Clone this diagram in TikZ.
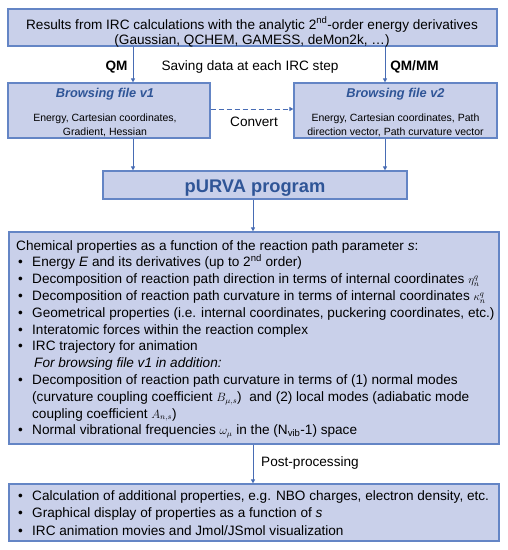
\documentclass[tikz,border=0pt]{standalone}
\usepackage{fontspec}
\setmainfont{Liberation Sans}
\usetikzlibrary{arrows.meta,fit}
\definecolor{boxfill}{RGB}{201,208,234}
\definecolor{boxdraw}{RGB}{100,133,197}
\definecolor{arrcol}{RGB}{72,108,180}
\definecolor{titlecol}{RGB}{47,85,151}
\newcommand{\mymath}[1]{{\fontsize{12}{14}\selectfont$#1$}}
\newcommand{\mysmallmath}[1]{{\fontsize{11}{13}\selectfont$#1$}}
\tikzset{
  box/.style={draw=boxdraw, fill=boxfill, line width=1.2pt, inner sep=0pt, rectangle},
  conn/.style={draw=arrcol, line width=0.9pt, -{Triangle[length=4pt,width=4pt]}},
  txt/.style={anchor=base west, inner sep=0pt, font=\fontsize{13.6}{16}\selectfont},
  ctxt/.style={anchor=base, inner sep=0pt, font=\fontsize{13.6}{16}\selectfont},
  small/.style={anchor=base, inner sep=0pt, font=\fontsize{10.5}{12}\selectfont},
  title/.style={anchor=base, inner sep=0pt, text=titlecol, font=\fontsize{12.8}{15}\selectfont\bfseries\itshape},
  blt/.style={anchor=base west, inner sep=0pt, font=\fontsize{13.6}{16}\selectfont},
}
\begin{document}
\begin{tikzpicture}[x=1pt,y=-1pt]
\useasboundingbox (0,0) rectangle (508,550);
% boxes
\node[box, fit={(8,9) (497,46)}] (top) {};
\node[box, fit={(8,83) (210,138)}] (v1) {};
\node[box, fit={(294,83) (497,138)}] (v2) {};
\node[box, fit={(103,171) (407,199)}] (purva) {};
\node[box, fit={(9,232) (499,444)}] (chem) {};
\node[box, fit={(9,484) (499,541)}] (post) {};
% top box text
\node[ctxt] (tl1) at (252,29) {Results from IRC calculations with the analytic 2\textsuperscript{nd}-order energy derivatives};
\node[ctxt] (tl2) at (252,44) {(Gaussian, QCHEM, GAMESS, deMon2k, \dots)};
% labels between
\node[ctxt, font=\fontsize{13.6}{16}\selectfont\bfseries] (qm) at (116.5,70) {QM};
\node[ctxt] (save) at (250,70) {Saving data at each IRC step};
\node[ctxt, font=\fontsize{13.6}{16}\selectfont\bfseries] (qmmm) at (414.5,70) {QM/MM};
% browsing files
\node[title] (v1t) at (105,97) {Browsing file v1};
\node[small] (v1a) at (105,121.5) {Energy, Cartesian coordinates,};
\node[small] (v1b) at (105,135) {Gradient, Hessian};
\node[title] (v2t) at (395.5,97) {Browsing file v2};
\node[small] (v2a) at (395.5,121.5) {Energy, Cartesian coordinates, Path};
\node[small] (v2b) at (395.5,135) {direction vector, Path curvature vector};
\node[ctxt] (conv) at (254,126) {Convert};
% purva
\node[anchor=base, inner sep=0pt, text=titlecol, font=\fontsize{18.3}{20}\selectfont\bfseries] (pt) at (255,192) {pURVA program};
% chem box
\node[txt] (c0) at (16,250) {Chemical properties as a function of the reaction path parameter \textit{s}:};
\node[blt] (b1) at (18,266.8) {•}; \node[txt] (c1) at (32,266.8) {Energy \textit{E} and its derivatives (up to 2\textsuperscript{nd} order)};
\node[blt] (b2) at (18,283.6) {•}; \node[txt] (c2) at (32,283.6) {Decomposition of reaction path direction in terms of internal coordinates \smash{\mysmallmath{\eta_n^q}}};
\node[blt] (b3) at (18,300.4) {•}; \node[txt] (c3) at (32,300.4) {Decomposition of reaction path curvature in terms of internal coordinates \smash{\mysmallmath{\kappa_n^q}}};
\node[blt] (b4) at (18,317.2) {•}; \node[txt] (c4) at (32,317.2) {Geometrical properties (i.e. internal coordinates, puckering coordinates, etc.)};
\node[blt] (b5) at (18,334) {•}; \node[txt] (c5) at (32,334) {Interatomic forces within the reaction complex};
\node[blt] (b6) at (18,350.8) {•}; \node[txt] (c6) at (32,350.8) {IRC trajectory for animation};
\node[txt] (c7) at (34,367.6) {\textit{For browsing file v1 in addition:}};
\node[blt] (b8) at (18,384.4) {•}; \node[txt] (c8) at (32,384.4) {Decomposition of reaction path curvature in terms of (1) normal modes};
\node[txt] (c9) at (32,401.2) {(curvature coupling coefficient \mymath{B_{\mu,s}})\ \ and (2) local modes (adiabatic mode};
\node[txt] (c10) at (32,418) {coupling coefficient \mymath{A_{n,s}})};
\node[blt] (b11) at (18,434.8) {•}; \node[txt] (c11) at (32,434.8) {Normal vibrational frequencies \mymath{\omega_\mu} in the (N\textsubscript{vib}-1) space};
% post box
\node[txt] (pp) at (261,466.7) {Post-processing};
\node[blt] (d1) at (18,500) {•}; \node[txt] (e1) at (32,500) {Calculation of additional properties, e.g. NBO charges, electron density, etc.};
\node[blt] (d2) at (18,517.5) {•}; \node[txt] (e2) at (32,517.5) {Graphical display of properties as a function of \textit{s}};
\node[blt] (d3) at (18,535) {•}; \node[txt] (e3) at (32,535) {IRC animation movies and Jmol/JSmol visualization};
% connectors
\draw[conn] (top.south -| 133,0) -- (v1.north -| 133,0);
\draw[conn] (top.south -| 385,0) -- (v2.north -| 385,0);
\draw[conn] (v1.south -| 133,0) -- (purva.north -| 133,0);
\draw[conn] (v2.south -| 385,0) -- (purva.north -| 385,0);
\draw[conn] (purva.south -| 253,0) -- (chem.north -| 253,0);
\draw[conn] (chem.south -| 253,0) -- (post.north -| 253,0);
\draw[conn, dashed, dash pattern=on 5pt off 3pt] (v1.east |- 0,109) -- (v2.west |- 0,109);
\end{tikzpicture}
\end{document}
